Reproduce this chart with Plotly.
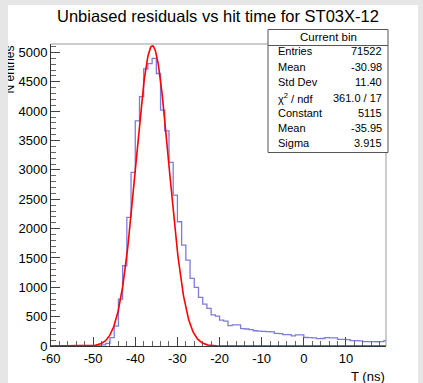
import plotly.graph_objects as go
import numpy as np

# ---------------- data ----------------
bin_low_edges = list(range(-60, 20))          # 1 ns bins
bin_width = 1
counts = [0, 0, 1, 1, 1, 2, 2, 3, 4, 6,
          8, 12, 20, 45, 141, 340, 800, 1367, 2191, 2957,
          3836, 4250, 4720, 4812, 4900, 4642, 4018, 3666, 3127, 2571,
          2117, 1719, 1464, 1152, 999, 829, 715, 641, 530, 510,
          440, 425, 346, 360, 360, 295, 290, 280, 260, 255,
          250, 245, 240, 215, 210, 195, 195, 172, 190, 188,
          145, 142, 140, 125, 128, 142, 140, 138, 113, 112,
          110, 92, 90, 88, 75, 74, 76, 72, 74, 90]

fit_constant = 5115.0
fit_mean = -35.95
fit_sigma = 3.915

stats_header = "Current bin"
stats_labels = ["Entries", "Mean", "Std Dev", "χ<sup>2</sup> / ndf", "Constant", "Mean", "Sigma"]
stats_values = ["71522", "-30.98", "11.40", "361.0 / 17", "5115", "-35.95", "3.915"]

x_tick_vals = [-60, -50, -40, -30, -20, -10, 0, 10]
x_tick_text = ["-60", "-50", "-40", "-30", "-20", "-10", "0", "10"]
y_tick_vals = [0, 500, 1000, 1500, 2000, 2500, 3000, 3500, 4000, 4500, 5000]
y_tick_text = ["0", "500", "1000", "1500", "2000", "2500", "3000", "3500", "4000", "4500", "5000"]

title_text = "Unbiased residuals vs hit time for ST03X-12"
x_title = "T (ns)"
y_title = "N entries"

# ---------------- layout geometry ----------------
W, H = 423, 383
L, R, T, B = 51, 386, 44, 346
FONT = "Liberation Sans, Arial, sans-serif"
GREY = "#e6e6e6"

def px(x):
    return (x - L) / (R - L)

def py(y):
    return (B - y) / (B - T)

# ---------------- traces ----------------
edges = bin_low_edges + [bin_low_edges[-1] + bin_width]
step_y = counts + [counts[-1]]

xf = np.linspace(-60, 20, 600)
yf = fit_constant * np.exp(-0.5 * ((xf - fit_mean) / fit_sigma) ** 2)

fig = go.Figure()
fig.add_trace(go.Scatter(x=edges, y=step_y, mode="lines", line_shape="hv",
                         line=dict(color="rgba(80,80,210,0.75)", width=1.3),
                         hoverinfo="skip", showlegend=False))
fig.add_trace(go.Scatter(x=xf, y=yf, mode="lines",
                         line=dict(color="#ff0000", width=1.6),
                         hoverinfo="skip", showlegend=False))

fig.update_layout(
    width=W, height=H,
    margin=dict(l=L, r=W - R, t=T, b=H - B, pad=0),
    paper_bgcolor="white", plot_bgcolor="white",
    font=dict(family=FONT, size=13, color="black"),
    showlegend=False,
)
fig.update_xaxes(range=[-60, 19.5], tickmode="array", tickvals=x_tick_vals, ticktext=x_tick_text,
                 ticks="inside", ticklen=9, tickcolor="#444", tickwidth=1,
                 minor=dict(ticks="inside", ticklen=5, dtick=2, tick0=0, tickcolor="#666", showgrid=False),
                 showgrid=False, zeroline=False, showline=True, linecolor="#333", linewidth=1,
                 layer="below traces", tickfont=dict(size=13, family=FONT))
fig.update_yaxes(range=[0, 5145], tickmode="array", tickvals=y_tick_vals, ticktext=y_tick_text,
                 ticks="inside", ticklen=9, tickcolor="#444", tickwidth=1,
                 minor=dict(ticks="inside", ticklen=5, dtick=100, tick0=0, tickcolor="#666", showgrid=False),
                 showgrid=False, zeroline=False, showline=True, linecolor="#333", linewidth=1,
                 layer="below traces", tickfont=dict(size=13, family=FONT))

shapes = []
# frame top/right
shapes.append(dict(type="line", xref="paper", yref="paper", x0=0, x1=1, y0=1, y1=1,
                   line=dict(color="#999", width=1)))
shapes.append(dict(type="line", xref="paper", yref="paper", x0=1, x1=1, y0=0, y1=1,
                   line=dict(color="#999", width=1)))
# grey canvas strips (top, right)
shapes.append(dict(type="rect", xref="paper", yref="paper", x0=px(0), x1=px(W), y0=py(0), y1=py(5),
                   fillcolor=GREY, line=dict(width=0), layer="above"))
shapes.append(dict(type="rect", xref="paper", yref="paper", x0=px(418), x1=px(W), y0=py(0), y1=py(H),
                   fillcolor=GREY, line=dict(width=0), layer="above"))
# stats box
sb_l, sb_r, sb_t, sb_b = 268, 388, 29.5, 152.5
shapes.append(dict(type="rect", xref="paper", yref="paper", x0=px(sb_l), x1=px(sb_r), y0=py(sb_t), y1=py(sb_b),
                   fillcolor="white", line=dict(color="#555", width=1), layer="above"))
shapes.append(dict(type="line", xref="paper", yref="paper", x0=px(sb_l), x1=px(sb_r), y0=py(45.5), y1=py(45.5),
                   line=dict(color="#555", width=1), layer="above"))

ann = []
ann.append(dict(text=title_text, xref="paper", yref="paper", x=px(217.5), y=py(16), xanchor="center",
                yanchor="middle", showarrow=False, font=dict(size=16.5, family=FONT, color="black")))
ann.append(dict(text=x_title, xref="paper", yref="paper", x=px(386.5), y=py(376.5), xanchor="right",
                yanchor="middle", showarrow=False, font=dict(size=13, family=FONT, color="black")))
ann.append(dict(text=y_title, xref="paper", yref="paper", x=px(9.5), y=py(44), xanchor="center",
                yanchor="top", textangle=-90, showarrow=False, font=dict(size=12, family=FONT, color="black")))
# left grey strip covering part of the y title (canvas clipping)
ann.append(dict(text=" ", xref="paper", yref="paper", x=px(0), y=py(0), xanchor="left", yanchor="top",
                width=8, height=H, bgcolor=GREY, borderwidth=0, borderpad=0, showarrow=False,
                font=dict(size=10)))
# stats text
ann.append(dict(text=stats_header, xref="paper", yref="paper", x=px(328), y=py(37.5), xanchor="center",
                yanchor="middle", showarrow=False, font=dict(size=11.5, family=FONT, color="black")))
row_y = [51.5, 66.5, 81.5, 98, 113, 128, 143]
for lab, val, yy in zip(stats_labels, stats_values, row_y):
    ann.append(dict(text=lab, xref="paper", yref="paper", x=px(275.5), y=py(yy), xanchor="left",
                    yanchor="middle", showarrow=False, font=dict(size=11, family=FONT, color="black")))
    ann.append(dict(text=val, xref="paper", yref="paper", x=px(384), y=py(yy), xanchor="right",
                    yanchor="middle", showarrow=False, font=dict(size=11, family=FONT, color="black")))

fig.update_layout(shapes=shapes, annotations=ann)
fig.write_html("out.html")
